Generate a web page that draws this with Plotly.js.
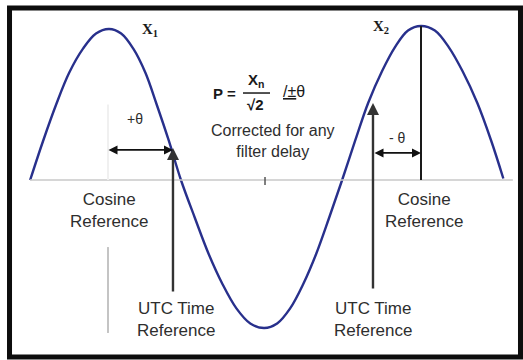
<!DOCTYPE html>
<html>
<head>
<meta charset="utf-8">
<script src="https://cdn.plot.ly/plotly-3.0.1.min.js"></script>
<style>
  html, body { margin: 0; padding: 0; background: #ffffff; }
  #chart { width: 523px; height: 360px; }
</style>
</head>
<body>
<div id="chart"></div>
<script>
// Phase angle (degrees, 0 = first cosine peak) and amplitude of the sampled waveform
const phaseDeg = [-91, -76, -61, -46, -30, -15, 0,
  14, 28, 42, 55, 69, 83,
  99, 115, 131, 147, 163, 179,
  194, 209, 224, 239, 254, 269,
  284, 299, 315, 330, 345, 360,
  376, 392, 408, 425, 441, 455];
const amplitude = [0.0, 0.26, 0.5, 0.71, 0.87, 0.97, 1.0,
  0.97, 0.87, 0.71, 0.5, 0.26, 0.0,
  -0.25, -0.49, -0.69, -0.85, -0.95, -0.98,
  -0.95, -0.85, -0.69, -0.49, -0.25, 0.0,
  0.26, 0.51, 0.72, 0.88, 0.99, 1.02,
  0.99, 0.88, 0.72, 0.51, 0.26, 0.01];

// Cosine reference phases (peaks X1, X2) and UTC time reference phases
const cosineRefDeg = [0, 360];
const peakAmplitude = [1.0, 1.02];
const peakLabels = ['X<sub>1</sub>', 'X<sub>2</sub>'];
const utcRefDeg = [73.8, 304.6];
const utcTipAmplitude = [0.212, 0.51];
const thetaLabels = ['+θ', '- θ'];

const FONT = 'Arial, "Liberation Sans", Helvetica, sans-serif';
const SERIF = '"Times New Roman", "Liberation Serif", serif';
const TXT = '#2e2e2e';
const INK = '#1a1a1a';

const wave = {
  x: phaseDeg,
  y: amplitude,
  type: 'scatter',
  mode: 'lines',
  line: { color: '#28308c', width: 2.4, shape: 'spline', smoothing: 1 },
  hoverinfo: 'skip'
};

const shapes = [
  // outer frame
  { type: 'rect', xref: 'paper', yref: 'paper', x0: 0.0182, x1: 0.9952, y0: 0.0083, y1: 0.9778,
    line: { color: '#0d0d0d', width: 5 }, fillcolor: 'rgba(0,0,0,0)' },
  // zero axis
  { type: 'line', xref: 'x', yref: 'y', x0: -91.2, x1: 466, y0: 0, y1: 0,
    line: { color: '#c9c9c9', width: 1.5 } },
  // axis ticks
  { type: 'line', xref: 'x', yref: 'y', x0: -1.2, x1: -1.2, y0: 0.025, y1: 0,
    line: { color: '#8a8a8a', width: 1.5 } },
  { type: 'line', xref: 'x', yref: 'y', x0: 180, x1: 180, y0: 0.02, y1: -0.033,
    line: { color: '#555555', width: 1.5 } },
  // faint guide under the first peak
  { type: 'line', xref: 'x', yref: 'y', x0: -1.2, x1: -1.2, y0: 0.5, y1: 0.0,
    line: { color: '#f0f0f0', width: 2 } },
  // light guide below the left cosine reference label
  { type: 'line', xref: 'x', yref: 'y', x0: -1.2, x1: -1.2, y0: -0.444, y1: -1.013,
    line: { color: '#c4c4c4', width: 2 } },
  // cosine reference line at the second peak
  { type: 'line', xref: 'x', yref: 'y', x0: cosineRefDeg[1], x1: cosineRefDeg[1], y0: 0, y1: peakAmplitude[1],
    line: { color: INK, width: 2 } },
  // fraction bar of the phasor formula
  { type: 'line', xref: 'x', yref: 'y', x0: 154.6, x1: 185.8, y0: 0.576, y1: 0.576,
    line: { color: INK, width: 1.5 } }
];

const annotations = [];

// peak labels and cosine reference captions
cosineRefDeg.forEach((deg, i) => {
  annotations.push({
    x: [47.3, 313.8][i], y: [0.993, 1.013][i], xref: 'x', yref: 'y',
    text: '<b>' + peakLabels[i] + '</b>', showarrow: false,
    font: { family: SERIF, size: 15, color: INK }
  });
  annotations.push({
    x: deg + (i === 0 ? 0 : 3), y: -0.205, xref: 'x', yref: 'y',
    text: 'Cosine<br>Reference', showarrow: false,
    font: { family: FONT, size: 17, color: TXT }
  });
});

// UTC time reference arrows and captions
utcRefDeg.forEach((deg, i) => {
  annotations.push({
    x: deg, y: utcTipAmplitude[i], ax: deg, ay: [-0.748, -0.728][i],
    xref: 'x', yref: 'y', axref: 'x', ayref: 'y',
    text: '', showarrow: true, arrowhead: 2, arrowsize: 1, arrowwidth: 2.4,
    arrowcolor: '#333333', standoff: 0, startstandoff: 0
  });
  annotations.push({
    x: deg + (i === 0 ? 3.5 : 0), y: -0.927, xref: 'x', yref: 'y',
    text: 'UTC Time<br>Reference', showarrow: false,
    font: { family: FONT, size: 17, color: TXT }
  });
});

// phase offset double arrows between cosine and UTC references
annotations.push({
  x: utcRefDeg[0], y: 0.199, ax: cosineRefDeg[0] - 2.3, ay: 0.199,
  xref: 'x', yref: 'y', axref: 'x', ayref: 'y',
  text: '', showarrow: true, arrowside: 'end+start', arrowhead: 2, arrowsize: 1,
  arrowwidth: 1.8, arrowcolor: '#111111', standoff: 0, startstandoff: 0
});
annotations.push({
  x: cosineRefDeg[1], y: 0.179, ax: utcRefDeg[1], ay: 0.179,
  xref: 'x', yref: 'y', axref: 'x', ayref: 'y',
  text: '', showarrow: true, arrowside: 'end+start', arrowhead: 2, arrowsize: 1,
  arrowwidth: 1.8, arrowcolor: '#111111', standoff: 0, startstandoff: 0
});
annotations.push({
  x: 30, y: 0.404, xref: 'x', yref: 'y', text: thetaLabels[0], showarrow: false,
  font: { family: FONT, size: 14, color: TXT }
});
annotations.push({
  x: 333.4, y: 0.278, xref: 'x', yref: 'y', text: thetaLabels[1], showarrow: false,
  font: { family: FONT, size: 14, color: TXT }
});

// phasor formula  P = Xn / √2 ∠ ±θ
annotations.push({
  x: 132.7, y: 0.576, xref: 'x', yref: 'y', text: '<b>P =</b>', showarrow: false,
  font: { family: FONT, size: 15, color: INK }
});
annotations.push({
  x: 170, y: 0.66, xref: 'x', yref: 'y', text: '<b>X<sub>n</sub></b>', showarrow: false,
  font: { family: FONT, size: 15, color: INK }
});
annotations.push({
  x: 168.5, y: 0.5, xref: 'x', yref: 'y', text: '<b>√2</b>', showarrow: false,
  font: { family: FONT, size: 15, color: INK }
});
annotations.push({
  x: 213.5, y: 0.589, xref: 'x', yref: 'y', text: '<u>/±</u>θ', showarrow: false,
  font: { family: FONT, size: 16, color: INK }
});
annotations.push({
  x: 189.2, y: 0.258, xref: 'x', yref: 'y', text: 'Corrected for any<br>filter delay', showarrow: false,
  font: { family: FONT, size: 16, color: TXT }
});

const layout = {
  width: 523,
  height: 360,
  margin: { l: 0, r: 0, t: 0, b: 0, pad: 0 },
  paper_bgcolor: '#ffffff',
  plot_bgcolor: '#ffffff',
  showlegend: false,
  xaxis: { range: [-125.8, 477.7], visible: false, fixedrange: true },
  yaxis: { range: [-1.192, 1.192], visible: false, fixedrange: true },
  shapes: shapes,
  annotations: annotations
};

Plotly.newPlot('chart', [wave], layout, { staticPlot: true, displayModeBar: false });
</script>
</body>
</html>
